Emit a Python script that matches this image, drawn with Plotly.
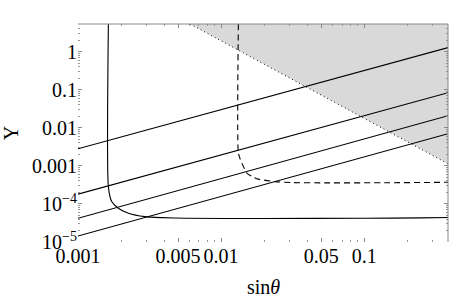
import numpy as np
import plotly.graph_objects as go

# ---- data ----
X_MIN, X_MAX = 0.001, 0.385
Y_MIN, Y_MAX = 1e-5, 5.3

# four parallel straight lines (values at left and right edges)
line_x = [X_MIN, X_MAX]
line1_y = [0.0028, 1.27]
line2_y = [1.8e-4, 0.0834]
line3_y = [4.2e-5, 0.0207]
line4_y = [1.44e-5, 0.00695]

# solid curve
solid_x = [0.00163, 0.00163, 0.00172, 0.00191, 0.00225, 0.00294, 0.00385, 0.0056, 0.02, 0.1, 0.25, 0.385]
solid_y = [5.3, 2.85e-4, 1.15e-4, 7.7e-5, 5.7e-5, 4.63e-5, 4.36e-5, 4.2e-5, 4.15e-5, 4.2e-5, 4.3e-5, 4.4e-5]

# dashed curve
dashed_x = [0.0132, 0.0132, 0.0136, 0.01397, 0.01512, 0.0165, 0.01824, 0.0239, 0.0312, 0.0533, 0.15, 0.385]
dashed_y = [5.3, 0.0022, 0.0015, 0.00118, 6.43e-4, 5.2e-4, 4.47e-4, 3.86e-4, 3.64e-4, 3.57e-4, 3.6e-4, 3.7e-4]

# dotted boundary of shaded region
bound_x = [0.00607, 0.385]
bound_y = [5.3, 0.00113]

x_tickvals = [0.001, 0.005, 0.01, 0.05, 0.1]
x_ticktext = ["0.001", "0.005", "0.01", "0.05", "0.1"]
y_tickvals = [1, 0.1, 0.01, 0.001, 1e-4, 1e-5]
y_ticktext = ["1", "0.1", "0.01", "0.001", "10<sup>\u22124</sup>", "10<sup>\u22125</sup>"]

x_minor = [0.002, 0.003, 0.004, 0.006, 0.007, 0.008, 0.009,
           0.02, 0.03, 0.04, 0.06, 0.07, 0.08, 0.09, 0.2, 0.3]
y_minor = [m * 10.0 ** e for e in range(-5, 1) for m in range(2, 10)]

FONT = "Liberation Serif"

fig = go.Figure()

# shaded region
fig.add_trace(go.Scatter(
    x=[bound_x[0], bound_x[1], X_MAX, bound_x[0]],
    y=[bound_y[0], bound_y[1], Y_MAX, bound_y[0]],
    fill="toself", fillcolor="#d9d9d9", mode="none", hoverinfo="skip"))
fig.add_trace(go.Scatter(x=bound_x, y=bound_y, mode="lines",
                         line=dict(color="black", width=1, dash="1px,3px")))

for ys in [line1_y, line2_y, line3_y, line4_y]:
    fig.add_trace(go.Scatter(x=line_x, y=ys, mode="lines",
                             line=dict(color="black", width=1.1)))

fig.add_trace(go.Scatter(x=solid_x, y=solid_y, mode="lines",
                         line=dict(color="black", width=1.1, shape="spline", smoothing=0.6)))
fig.add_trace(go.Scatter(x=dashed_x, y=dashed_y, mode="lines",
                         line=dict(color="black", width=1.1, dash="6px,4px", shape="spline", smoothing=0.6)))

axis_common = dict(showgrid=False, zeroline=False, showline=False, automargin=False,
                   ticks="inside", ticklen=4, tickcolor="#888", tickwidth=1,
                   mirror="ticks",
                   tickfont=dict(family=FONT, size=20, color="black"))

fig.update_xaxes(type="log", range=[np.log10(X_MIN), np.log10(X_MAX)],
                 tickmode="array", tickvals=x_tickvals, ticktext=x_ticktext,
                 minor=dict(ticks="inside", ticklen=2, tickcolor="#999", tickvals=x_minor),
                 **axis_common)
fig.update_yaxes(type="log", range=[np.log10(Y_MIN), np.log10(Y_MAX)],
                 tickmode="array", tickvals=y_tickvals, ticktext=y_ticktext,
                 minor=dict(ticks="inside", ticklen=2, tickcolor="#999", tickvals=y_minor),
                 title=dict(text="Y", font=dict(family=FONT, size=20, color="black"), standoff=10),
                 **axis_common)

# x-axis title as annotation for exact placement
fig.add_annotation(text="sin<i>θ</i>", xref="paper", yref="paper", x=0.5, y=0,
                   yshift=-45, yanchor="middle", showarrow=False,
                   font=dict(family=FONT, size=20, color="black"))

# top and right frame lines
fig.add_shape(type="line", xref="paper", yref="paper", x0=0, x1=1, y0=1, y1=1,
              line=dict(color="#888", width=1))
fig.add_shape(type="line", xref="paper", yref="paper", x0=1, x1=1, y0=0, y1=1,
              line=dict(color="#888", width=1))

fig.update_layout(width=454, height=300, margin=dict(l=78, r=6, t=24, b=58, autoexpand=False),
                  paper_bgcolor="white", plot_bgcolor="white", showlegend=False)

fig.write_html("out.html", config={"displayModeBar": False},
               post_script="document.body.style.margin='0';document.body.style.overflow='hidden';")
